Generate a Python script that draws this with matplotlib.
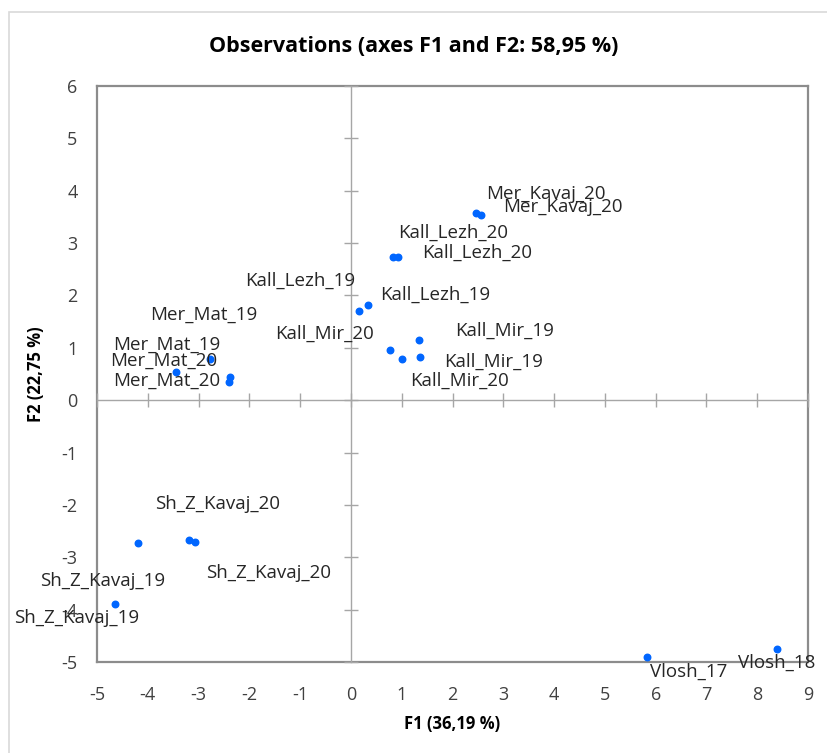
import matplotlib.pyplot as plt
from matplotlib.patches import Rectangle

# observation coordinates (F1, F2)
f1 = [-3.44, -2.78, -2.38, -2.40,
      2.47, 2.57,
      0.83, 0.93,
      0.16, 0.34,
      0.77, 1.00, 1.34, 1.36,
      -4.19, -3.19, -3.07, -4.65,
      5.82, 8.39]
f2 = [0.54, 0.79, 0.44, 0.35,
      3.57, 3.54,
      2.74, 2.74,
      1.70, 1.82,
      0.95, 0.78, 1.15, 0.82,
      -2.73, -2.67, -2.70, -3.89,
      -4.90, -4.75]

# labels and where XLSTAT put them
label_text = ['Mer_Kavaj_20', 'Mer_Kavaj_20', 'Kall_Lezh_20', 'Kall_Lezh_20',
              'Kall_Lezh_19', 'Kall_Lezh_19', 'Mer_Mat_19', 'Kall_Mir_20',
              'Kall_Mir_19', 'Kall_Mir_19', 'Kall_Mir_20', 'Mer_Mat_19',
              'Mer_Mat_20', 'Mer_Mat_20', 'Sh_Z_Kavaj_20', 'Sh_Z_Kavaj_20',
              'Sh_Z_Kavaj_19', 'Sh_Z_Kavaj_19', 'Vlosh_17', 'Vlosh_18']
label_x = [2.66, 2.99, 0.93, 1.40, -2.09, 0.57, -3.96, -1.50, 2.05, 1.83,
           1.16, -4.69, -4.74, -4.69, -3.86, -2.85, -6.12, -6.63, 5.89, 7.62]
label_y = [3.94, 3.69, 3.19, 2.81, 2.28, 2.01, 1.63, 1.26, 1.32, 0.73,
           0.37, 1.05, 0.75, 0.37, -1.98, -3.30, -3.45, -4.16, -5.18, -5.01]

xticks = list(range(-5, 10))
yticks = list(range(-5, 7))

plt.rcParams['font.family'] = ['Open Sans', 'DejaVu Sans']
plt.rcParams['axes.unicode_minus'] = False

fig = plt.figure(figsize=(8.27, 7.53), dpi=100)
fig.patches.append(Rectangle((9 / 827, -0.1), 1.2, 1 - 12 / 753 + 0.1,
                             transform=fig.transFigure, fill=False,
                             edgecolor='#d9d9d9', linewidth=1.2))

pos = [97 / 827, 1 - 662 / 753, (808 - 97) / 827, (662 - 86) / 753]
ax = fig.add_axes(pos)
ax.set_xlim(-5, 9)
ax.set_ylim(-5, 6)
ax.set_xticks(xticks)
ax.set_yticks(yticks)
ax.tick_params(length=0, labelsize=13, colors='#404040')
ax.tick_params(axis='x', pad=17)
ax.tick_params(axis='y', pad=14)
for s in ax.spines.values():
    s.set_color('#8c8c8c')
    s.set_linewidth(1.6)

# zero axes with crossing ticks
ax2 = fig.add_axes(pos, sharex=ax, sharey=ax)
ax2.patch.set_visible(False)
ax2.spines['top'].set_visible(False)
ax2.spines['right'].set_visible(False)
ax2.spines['left'].set_position(('data', 0))
ax2.spines['bottom'].set_position(('data', 0))
for s in ('left', 'bottom'):
    ax2.spines[s].set_color('#a6a6a6')
    ax2.spines[s].set_linewidth(1.0)
ax2.tick_params(direction='inout', length=10, width=1.0, color='#a6a6a6',
                labelleft=False, labelbottom=False)

ax2.scatter(f1, f2, s=22, color='#0066ff', zorder=3)
for t, x, y in zip(label_text, label_x, label_y):
    ax2.text(x, y, t, ha='left', va='center', fontsize=13.5,
             color='#262626', clip_on=False)

ax.set_xlabel('F1 (36,19 %)', fontsize=12, fontweight='bold', labelpad=8)
ax.set_ylabel('F2 (22,75 %)', fontsize=12, fontweight='bold', labelpad=12)
fig.text(0.5, 1 - 46 / 753, 'Observations (axes F1 and F2: 58,95 %)',
         ha='center', va='center', fontsize=15.5, fontweight='bold')

fig.savefig('out.png', dpi=100)
